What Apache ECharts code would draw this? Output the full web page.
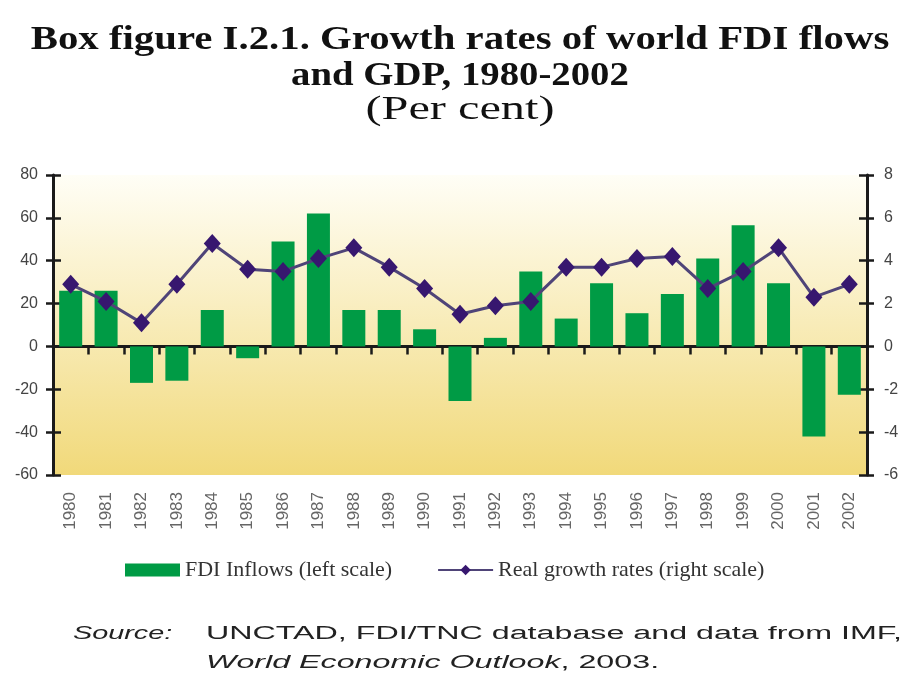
<!DOCTYPE html>
<html>
<head>
<meta charset="utf-8">
<script src="https://cdn.jsdelivr.net/npm/echarts@6/dist/echarts.min.js"></script>
<style>html,body{margin:0;padding:0;background:#fff}#c{width:920px;height:690px}</style>
</head>
<body>
<div id="c"></div>
<script>
const years = ['1980','1981','1982','1983','1984','1985','1986','1987','1988','1989','1990','1991','1992','1993','1994','1995','1996','1997','1998','1999','2000','2001','2002'];
const fdiInflows = [26, 26, -17, -16, 17, -5.5, 49, 62, 17, 17, 8, -25.5, 4, 35, 13, 29.5, 15.5, 24.5, 41, 56.5, 29.5, -42, -22.5];
const gdpGrowth = [2.9, 2.1, 1.1, 2.9, 4.8, 3.6, 3.5, 4.1, 4.6, 3.7, 2.7, 1.5, 1.9, 2.1, 3.7, 3.7, 4.1, 4.2, 2.7, 3.5, 4.6, 2.3, 2.9];
const leftTicks = {min: -60, max: 80, interval: 20};
const rightTicks = {min: -6, max: 8, interval: 2};
const titleLines = ['Box figure I.2.1. Growth rates of world FDI flows', 'and GDP, 1980-2002', '(Per cent)'];

const chart = echarts.init(document.getElementById('c'));
const axisCol = '#1a1a1a';
const labelStyle = {color: '#444', fontFamily: 'Liberation Sans', fontSize: 16};
const serifBold = 'bold 34px "Liberation Serif"';
const serif = '34px "Liberation Serif"';
chart.setOption({
  backgroundColor: '#fff',
  animation: false,
  legend: {
    left: 120, top: 554, itemWidth: 55, itemHeight: 13, itemGap: 45,
    textStyle: {fontFamily: 'Liberation Serif', fontSize: 22, color: '#333'},
    data: [
      {name: 'FDI Inflows (left scale)', icon: 'rect'},
      {name: 'Real growth rates (right scale)'}
    ]
  },
  grid: {
    left: 53, right: 53, top: 175, bottom: 215, show: true, borderWidth: 0,
    backgroundColor: new echarts.graphic.LinearGradient(0, 0, 0, 1, [
      {offset: 0, color: '#fffef6'},
      {offset: 1, color: '#f1d97a'}
    ])
  },
  xAxis: [
    {
      type: 'category', data: years,
      axisLine: {onZero: true, lineStyle: {color: axisCol, width: 3}},
      axisTick: {show: true, length: 8, lineStyle: {color: axisCol, width: 2.5}},
      axisLabel: {show: false}
    },
    {
      type: 'category', data: years, position: 'bottom',
      axisLine: {show: false, onZero: false},
      axisTick: {show: false},
      axisLabel: Object.assign({}, labelStyle, {rotate: 90, margin: 17, fontSize: 17, color: '#666'})
    }
  ],
  yAxis: [
    {
      type: 'value', position: 'left', min: leftTicks.min, max: leftTicks.max, interval: leftTicks.interval,
      axisLine: {show: true, lineStyle: {color: axisCol, width: 3}},
      axisTick: {show: true, length: 7, lineStyle: {color: axisCol, width: 2.5}},
      axisLabel: Object.assign({margin: 15}, labelStyle),
      splitLine: {show: false}
    },
    {
      type: 'value', position: 'right', min: rightTicks.min, max: rightTicks.max, interval: rightTicks.interval,
      axisLine: {show: true, lineStyle: {color: axisCol, width: 3}},
      axisTick: {show: true, length: 7, lineStyle: {color: axisCol, width: 2.5}},
      axisLabel: Object.assign({margin: 17}, labelStyle),
      splitLine: {show: false}
    },
    {
      type: 'value', position: 'left', min: leftTicks.min, max: leftTicks.max, interval: leftTicks.interval,
      axisLine: {show: false}, axisLabel: {show: false}, splitLine: {show: false},
      axisTick: {show: true, inside: true, length: 8, lineStyle: {color: axisCol, width: 2.5}}
    },
    {
      type: 'value', position: 'right', min: rightTicks.min, max: rightTicks.max, interval: rightTicks.interval,
      axisLine: {show: false}, axisLabel: {show: false}, splitLine: {show: false},
      axisTick: {show: true, inside: true, length: 8, lineStyle: {color: axisCol, width: 2.5}}
    }
  ],
  series: [
    {
      name: 'FDI Inflows (left scale)', type: 'bar', xAxisIndex: 0, yAxisIndex: 0,
      data: fdiInflows, barWidth: '65%', itemStyle: {color: '#009b45'}
    },
    {
      name: 'Real growth rates (right scale)', type: 'line', xAxisIndex: 0, yAxisIndex: 1,
      data: gdpGrowth, symbol: 'diamond', symbolSize: [17, 19],
      lineStyle: {color: '#4f4478', width: 3},
      itemStyle: {color: '#37176f'}
    }
  ],
  graphic: [
    {type: 'text', x: 460, y: 40, scaleX: 1.2, style: {text: titleLines[0], font: serifBold, fill: '#111', align: 'center', verticalAlign: 'middle'}},
    {type: 'text', x: 460, y: 76, scaleX: 1.14, style: {text: titleLines[1], font: serifBold, fill: '#111', align: 'center', verticalAlign: 'middle'}},
    {type: 'text', x: 460, y: 110, scaleX: 1.42, style: {text: titleLines[2], font: serif, fill: '#111', align: 'center', verticalAlign: 'middle'}},
    {type: 'text', x: 73, y: 625, scaleX: 1.6, style: {text: 'Source:', font: 'italic 18px "Liberation Sans"', fill: '#222'}},
    {type: 'text', x: 206, y: 625, scaleX: 1.79, style: {text: 'UNCTAD, FDI/TNC database and data from IMF,', font: '18px "Liberation Sans"', fill: '#222'}},
    {type: 'text', x: 206, y: 654, scaleX: 1.79, style: {rich: {i: {font: 'italic 18px "Liberation Sans"', fill: '#222'}, n: {font: '18px "Liberation Sans"', fill: '#222'}}, text: '{i|World Economic Outlook}{n|, 2003.}'}}
  ]
});
</script>
</body>
</html>
